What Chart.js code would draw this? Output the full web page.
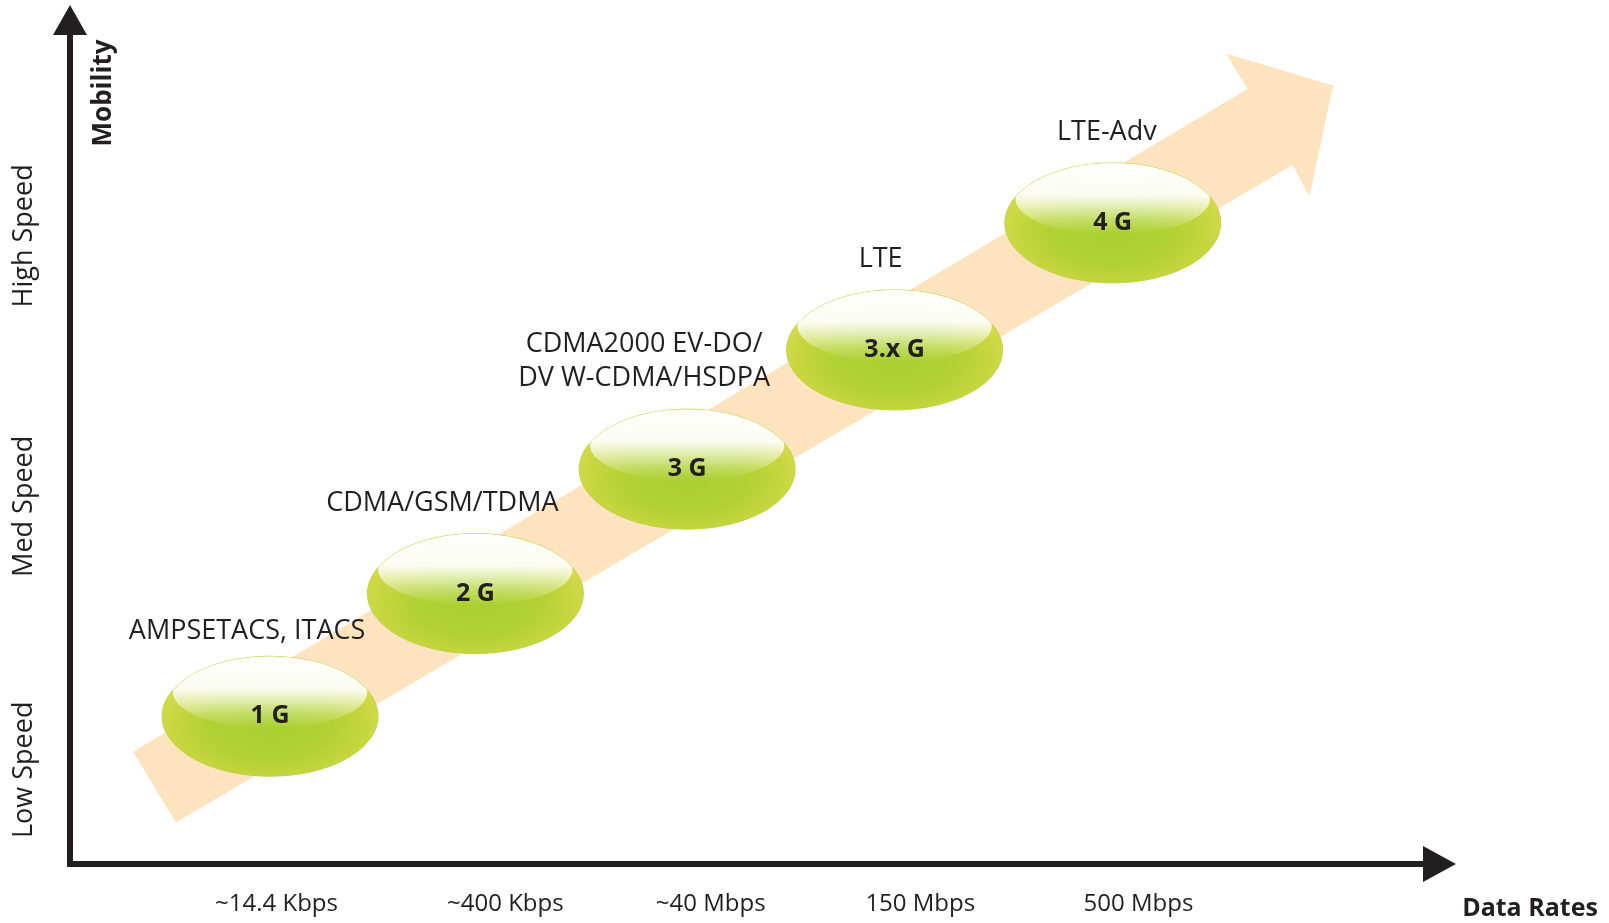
<!DOCTYPE html>
<html>
<head>
<meta charset="utf-8">
<title>Mobility vs Data Rates</title>
<script src="https://cdn.jsdelivr.net/npm/chart.js@4"></script>
<style>
  html, body { margin: 0; padding: 0; background: #fff; }
  #wrap { width: 1609px; height: 923px; position: relative; }
</style>
</head>
<body>
<div id="wrap"><canvas id="chart"></canvas></div>
<script>
// ---------------- DATA ----------------

const rateLabels = ["~14.4 Kbps", "~400 Kbps", "~40 Mbps", "150 Mbps", "500 Mbps"];
const rateTickX = [0.97, 2.04, 3.0, 3.98, 5.0];

const speedLabels = ["Low Speed", "Med Speed", "High Speed"];
const speedTickY = [1.09, 4.14, 7.27];

const generations = ["1 G", "2 G", "3 G", "3.x G", "4 G"];
const genRate = [0.94, 1.90, 2.89, 3.86, 4.88];
const genMobility = [1.71, 3.13, 4.57, 5.95, 7.42];

const technologies = [
    ["AMPSETACS, ITACS"],
    ["CDMA/GSM/TDMA"],
    ["CDMA2000 EV-DO/", "DV W-CDMA/HSDPA"],
    ["LTE"],
    ["LTE-Adv"]
];

// big trend arrow outline (data units)
const trendArrowX = [0.30, 5.51, 5.41, 5.91, 5.80, 5.72, 0.50];
const trendArrowY = [1.30, 8.97, 9.38, 9.01, 7.73, 8.09, 0.48];

// ---------------- STYLE ----------------

const INK = "#231f20";
const FONT = "'Open Sans', 'Noto Sans', sans-serif";
const ELL_RX = 108;
const ELL_RY = 60;
const labelDx = [-23, -33, -43, -14, -6];
const labelGap = [25, 30, 31, 31, 31];

// ---------------- PLUGIN ----------------

function drawEllipse(ctx, cx, cy) {
    // base body
    ctx.save();
    ctx.beginPath();
    ctx.ellipse(cx, cy, ELL_RX, ELL_RY, 0, 0, Math.PI * 2);
    ctx.closePath();
    ctx.save();
    ctx.translate(cx, cy + ELL_RY * 0.15);
    ctx.scale(1, ELL_RY / ELL_RX);
    const g = ctx.createRadialGradient(0, 0, 0, 0, 0, ELL_RX * 1.05);
    g.addColorStop(0, "#a9cf2f");
    g.addColorStop(0.55, "#b3d133");
    g.addColorStop(0.85, "#c7d63f");
    g.addColorStop(1, "#d3da4c");
    ctx.fillStyle = g;
    ctx.fill();
    ctx.restore();
    ctx.lineWidth = 1;
    ctx.strokeStyle = "#bcd442";
    ctx.stroke();

    // glossy highlight, clipped to the body
    ctx.clip();
    const gy = cy - ELL_RY * 0.4;
    const gry = ELL_RY * 0.6;
    ctx.beginPath();
    ctx.ellipse(cx, gy, ELL_RX * 0.9, gry, 0, 0, Math.PI * 2);
    const lg = ctx.createLinearGradient(0, gy - gry, 0, gy + gry);
    lg.addColorStop(0, "rgba(255,255,255,1)");
    lg.addColorStop(0.45, "rgba(255,255,255,0.92)");
    lg.addColorStop(0.8, "rgba(255,255,255,0.25)");
    lg.addColorStop(1, "rgba(255,255,255,0)");
    ctx.fillStyle = lg;
    ctx.fill();
    ctx.restore();
}

const diagramPlugin = {
    id: "diagram",
    beforeDatasetsDraw(chart) {
        const ctx = chart.ctx;
        const xs = chart.scales.x, ys = chart.scales.y;

        // trend arrow
        ctx.save();
        ctx.beginPath();
        trendArrowX.forEach((v, i) => {
            const px = xs.getPixelForValue(v), py = ys.getPixelForValue(trendArrowY[i]);
            if (i === 0) ctx.moveTo(px, py); else ctx.lineTo(px, py);
        });
        ctx.closePath();
        ctx.fillStyle = "#fee3bf";
        ctx.fill();
        ctx.restore();

        // axes
        const x0 = xs.getPixelForValue(0) + 1;
        const y0 = ys.getPixelForValue(0);
        ctx.save();
        ctx.strokeStyle = INK;
        ctx.fillStyle = INK;
        ctx.lineWidth = 6;
        ctx.beginPath();
        ctx.moveTo(x0, y0 + 3);
        ctx.lineTo(x0, 30);
        ctx.moveTo(x0 - 3, y0);
        ctx.lineTo(1425, y0);
        ctx.stroke();
        ctx.beginPath();
        ctx.moveTo(x0, 5);
        ctx.lineTo(x0 - 17, 35);
        ctx.lineTo(x0 + 17, 35);
        ctx.closePath();
        ctx.fill();
        ctx.beginPath();
        ctx.moveTo(1456, y0);
        ctx.lineTo(1423, y0 - 18);
        ctx.lineTo(1423, y0 + 18);
        ctx.closePath();
        ctx.fill();

        // x tick labels
        ctx.font = "24px " + FONT;
        ctx.textAlign = "center";
        ctx.textBaseline = "middle";
        rateLabels.forEach((t, i) => {
            ctx.fillText(t, xs.getPixelForValue(rateTickX[i]), y0 + 40);
        });

        // y tick labels (rotated)
        ctx.font = "27px " + FONT;
        speedLabels.forEach((t, i) => {
            ctx.save();
            ctx.translate(24, ys.getPixelForValue(speedTickY[i]));
            ctx.rotate(-Math.PI / 2);
            ctx.fillText(t, 0, 0);
            ctx.restore();
        });

        // axis titles
        ctx.font = "bold 26px " + FONT;
        ctx.save();
        ctx.translate(104, 93);
        ctx.rotate(-Math.PI / 2);
        ctx.fillText("Mobility", 0, 0);
        ctx.restore();
        ctx.font = "bold 25px " + FONT;
        ctx.fillText("Data Rates", 1530, 909);
        ctx.restore();
    },
    afterDatasetsDraw(chart) {
        const ctx = chart.ctx;
        const meta = chart.getDatasetMeta(0);
        meta.data.forEach((pt, i) => {
            drawEllipse(ctx, pt.x, pt.y);

            ctx.save();
            ctx.fillStyle = INK;
            ctx.textAlign = "center";
            ctx.textBaseline = "middle";
            ctx.font = "bold 25px " + FONT;
            ctx.fillText(generations[i], pt.x, pt.y);

            ctx.font = "27px " + FONT;
            const lines = technologies[i];
            const baseY = pt.y - ELL_RY - labelGap[i];
            lines.forEach((line, j) => {
                ctx.fillText(line, pt.x + labelDx[i], baseY - (lines.length - 1 - j) * 34);
            });
            ctx.restore();
        });
    }
};

// ---------------- CHART ----------------

new Chart(document.getElementById("chart"), {
    type: "scatter",
    data: {
        datasets: [{
            label: "Generations",
            data: genRate.map((x, i) => ({ x: x, y: genMobility[i] })),
            pointRadius: 0,
            pointHoverRadius: 0
        }]
    },
    options: {
        responsive: true,
        maintainAspectRatio: false,
        animation: false,
        layout: { padding: { left: 69, right: 0, top: 0, bottom: 59 } },
        plugins: {
            legend: { display: false },
            title: { display: false },
            tooltip: { enabled: false }
        },
        scales: {
            x: { type: "linear", min: 0, max: 7.2, display: false },
            y: { type: "linear", min: 0, max: 10, display: false }
        }
    },
    plugins: [diagramPlugin]
});
</script>
</body>
</html>
